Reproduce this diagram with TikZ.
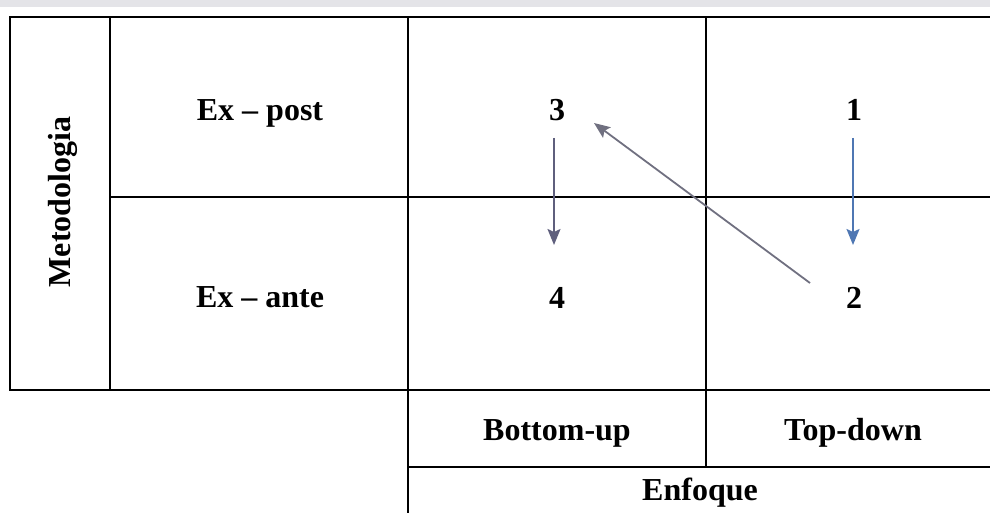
\documentclass[tikz,border=0pt]{standalone}
\usepackage{fontspec}
\setmainfont{Liberation Serif}
\usepackage{xcolor}
\usepackage{tikz}
\usetikzlibrary{arrows.meta, positioning, calc}
\definecolor{scanband}{RGB}{228,228,232}
\definecolor{arrslate}{RGB}{95,95,125}
\definecolor{arrblue}{RGB}{79,119,179}
\definecolor{arrgray}{RGB}{112,112,128}

\begin{document}
\begin{tikzpicture}[
    x=0.5pt, y=-0.5pt,
    cell/.style={inner sep=0pt, font=\fontsize{16}{19}\selectfont\bfseries, align=center},
    grid/.style={line width=1.1pt, black},
    arr/.style={-{Stealth[length=8pt, width=6.5pt, inset=1.5pt]}, line width=0.9pt}
]
\useasboundingbox (0,0) rectangle (990,513);
\fill[scanband] (0,0) rectangle (990,7);

% table rules
\draw[grid] (990,17) -- (10,17) -- (10,390) -- (990,390);
\draw[grid] (110,17) -- (110,390);
\draw[grid] (408,17) -- (408,513);
\draw[grid] (706,17) -- (706,467);
\draw[grid] (110,197) -- (990,197);
\draw[grid] (408,467) -- (990,467);

% labels
\node[cell, rotate=90] (metod) at (63,202) {Metodologia};
\node[cell] (expost) at (260,113) {Ex -- post};
\node[cell] (exante) at (260,297) {Ex -- ante};
\node[cell] (n3) at (557,110) {3};
\node[cell] (n1) at (854,110) {1};
\node[cell] (n4) at (557,298) {4};
\node[cell] (n2) at (854,298) {2};
\node[cell] (bottomup) at (557,433) {Bottom-up};
\node[cell] (topdown) at (853,433) {Top-down};
\node[cell] (enfoque) at (700,493) {Enfoque};

% arrows
\draw[arr, arrslate] ([shift={(-3,28)}]n3.center) -- ([shift={(-3,-53)}]n4.center);
\draw[arr, arrblue] ([shift={(-1,28)}]n1.center) -- ([shift={(-1,-53)}]n2.center);
\draw[arr, arrgray] ([shift={(-44,-15)}]n2.center) -- ([shift={(37,13)}]n3.center);
\end{tikzpicture}
\end{document}
